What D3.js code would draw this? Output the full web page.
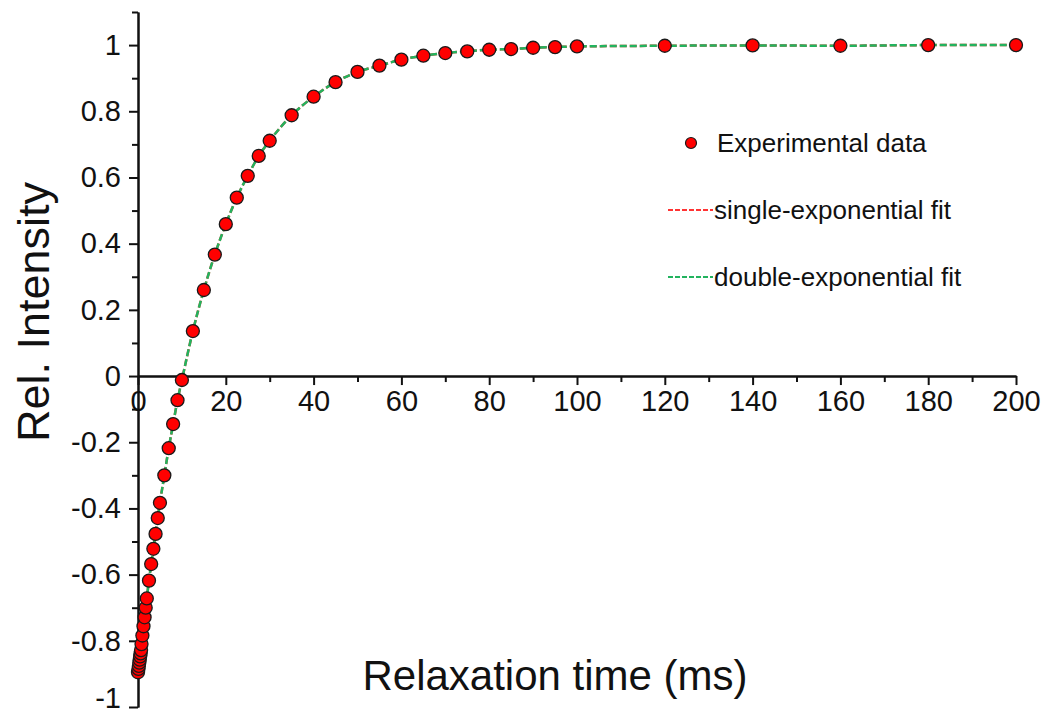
<!DOCTYPE html>
<html>
<head>
<meta charset="utf-8">
<script src="https://cdn.jsdelivr.net/npm/d3@7"></script>
<style>
  body { margin: 0; background: #fff; }
  svg { display: block; font-family: "Liberation Sans", Arial, sans-serif; }
</style>
</head>
<body>
<div id="chart"></div>
<script>
// relaxation times (ms) and measured relative intensity
const timeMs = [0, 0.1, 0.2, 0.3, 0.4, 0.5, 0.6, 0.7, 0.8, 1, 1.25, 1.5, 1.75, 2, 2.5, 3, 3.5, 4, 4.5, 5,
  6, 7, 8, 9, 10, 12.5, 15, 17.5, 20, 22.5, 25, 27.5, 30, 35, 40, 45, 50, 55, 60, 65, 70, 75,
  80, 85, 90, 95, 100, 120, 140, 160, 180, 200];
const relIntensity = [-0.895, -0.885, -0.876, -0.866, -0.857, -0.847, -0.838, -0.828, -0.81, -0.784,
  -0.756, -0.729, -0.70, -0.672, -0.618, -0.568, -0.522, -0.477, -0.429, -0.383,
  -0.30, -0.218, -0.145, -0.073, -0.012, 0.136, 0.26, 0.367, 0.459, 0.539, 0.605, 0.665, 0.711,
  0.788, 0.844, 0.888, 0.919, 0.938, 0.956, 0.968, 0.976, 0.981, 0.986, 0.988, 0.992, 0.994,
  0.996, 0.998, 0.999, 0.998, 1.0, 1.0];

const xTicks = [0, 20, 40, 60, 80, 100, 120, 140, 160, 180, 200];
const xMinorTicks = [10, 30, 50, 70, 90, 110, 130, 150, 170, 190];
const yTicks = [-1, -0.8, -0.6, -0.4, -0.2, 0, 0.2, 0.4, 0.6, 0.8, 1];
const yMinorTicks = [-0.9, -0.7, -0.5, -0.3, -0.1, 0.1, 0.3, 0.5, 0.7, 0.9, 1.1];

const legendItems = ["Experimental data", "single-exponential fit", "double-exponential fit"];

const width = 1046;
const height = 717;

const svg = d3.select("#chart")
  .append("svg")
  .attr("width", width)
  .attr("height", height);

const x = d3.scaleLinear().domain([0, 200]).range([138, 1016]);
const y = d3.scaleLinear().domain([-1, 1.1]).range([707, 12]);

const points = timeMs.map((t, i) => ({ t: t, v: relIntensity[i] }));

const fmt = (d) => (d === 0 ? "0" : String(+d.toFixed(1)));

// x axis at y = 0
const xAxisG = svg.append("g")
  .attr("transform", `translate(0,${y(0)})`)
  .call(d3.axisBottom(x).tickValues(xTicks).tickSize(9).tickSizeOuter(0).tickPadding(5).tickFormat((d) => d));
xAxisG.append("g")
  .call(d3.axisBottom(x).tickValues(xMinorTicks).tickSize(6).tickSizeOuter(0).tickFormat(""));

// y axis
const yAxisG = svg.append("g")
  .attr("transform", `translate(${x(0)},0)`)
  .call(d3.axisLeft(y).tickValues(yTicks).tickSize(9).tickSizeOuter(0).tickPadding(8).tickFormat(fmt));
yAxisG.append("g")
  .call(d3.axisLeft(y).tickValues(yMinorTicks).tickSize(6).tickSizeOuter(0).tickFormat(""));

// keep the bottom "-1" label inside the picture
yAxisG.selectAll(".tick text").filter((d) => d === -1).attr("dy", "0em");

svg.selectAll(".domain").attr("stroke", "#111").attr("stroke-width", 2);
svg.selectAll(".tick line").attr("stroke", "#111").attr("stroke-width", 2);
svg.selectAll(".tick text")
  .attr("fill", "#111")
  .style("font-size", "29px")
  .style("font-family", "'Liberation Sans', Arial, sans-serif");

// fit curves
const line = d3.line()
  .x((d) => x(d.t))
  .y((d) => y(d.v))
  .curve(d3.curveMonotoneX);

svg.append("path")
  .datum(points)
  .attr("d", line)
  .attr("fill", "none")
  .attr("stroke", "#ff3333")
  .attr("stroke-width", 2.5)
  .attr("stroke-dasharray", "7,3");

svg.append("path")
  .datum(points)
  .attr("d", line)
  .attr("fill", "none")
  .attr("stroke", "#22b35e")
  .attr("stroke-width", 2.5)
  .attr("stroke-dasharray", "7,3");

// experimental points
svg.selectAll("circle.pt")
  .data(points)
  .enter()
  .append("circle")
  .attr("class", "pt")
  .attr("cx", (d) => x(d.t))
  .attr("cy", (d) => y(d.v))
  .attr("r", 6.5)
  .attr("fill", "#ff0000")
  .attr("stroke", "#1a1a1a")
  .attr("stroke-width", 1.3);

// axis titles
svg.append("text")
  .attr("x", 555)
  .attr("y", 690)
  .attr("text-anchor", "middle")
  .style("font-size", "42px")
  .attr("fill", "#111")
  .text("Relaxation time (ms)");

svg.append("text")
  .attr("transform", "translate(49,312) rotate(-90)")
  .attr("text-anchor", "middle")
  .style("font-size", "45px")
  .attr("fill", "#111")
  .text("Rel. Intensity");

// legend
const legend = svg.append("g").style("font-size", "26px");
const legendY = [143, 210, 277];

legend.append("circle")
  .attr("cx", 691)
  .attr("cy", legendY[0])
  .attr("r", 5.5)
  .attr("fill", "#ff0000")
  .attr("stroke", "#1a1a1a")
  .attr("stroke-width", 1.2);

legend.append("line")
  .attr("x1", 668).attr("x2", 713)
  .attr("y1", legendY[1]).attr("y2", legendY[1])
  .attr("stroke", "#ff3333")
  .attr("stroke-width", 2)
  .attr("stroke-dasharray", "5,2");

legend.append("line")
  .attr("x1", 668).attr("x2", 713)
  .attr("y1", legendY[2]).attr("y2", legendY[2])
  .attr("stroke", "#22b35e")
  .attr("stroke-width", 2)
  .attr("stroke-dasharray", "5,2");

legend.selectAll("text")
  .data(legendItems)
  .enter()
  .append("text")
  .attr("x", (d, i) => (i === 0 ? 717 : 714))
  .attr("y", (d, i) => legendY[i])
  .attr("dy", "0.35em")
  .attr("fill", "#111")
  .text((d) => d);
</script>
</body>
</html>
